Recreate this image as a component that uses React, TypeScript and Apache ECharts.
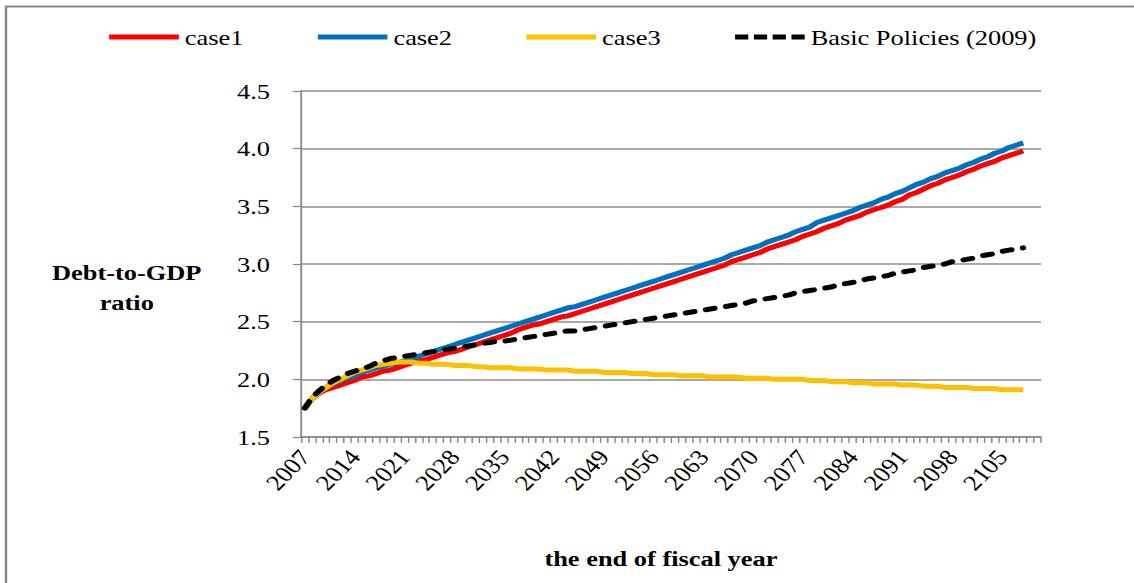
import React, { useEffect, useRef } from 'react';
import * as echarts from 'echarts';

// Categories: fiscal years 2007..2110 (Excel-style category axis)
const FIRST_YEAR = 2007;
const LAST_YEAR = 2110;
const years: string[] = [];
for (let y = FIRST_YEAR; y <= LAST_YEAR; y++) years.push(String(y));

// Values for 2007..2108
const case1 = [
  1.75, 1.83, 1.88, 1.91, 1.93, 1.95, 1.97, 1.99, 2.02, 2.03,
  2.05, 2.07, 2.08, 2.10, 2.12, 2.14, 2.16, 2.17, 2.19, 2.21,
  2.23, 2.24, 2.26, 2.28, 2.30, 2.32, 2.34, 2.36, 2.38, 2.40,
  2.43, 2.45, 2.47, 2.48, 2.50, 2.52, 2.54, 2.55, 2.57, 2.59,
  2.61, 2.63, 2.65, 2.67, 2.69, 2.71, 2.73, 2.75, 2.77, 2.79,
  2.81, 2.83, 2.85, 2.87, 2.89, 2.91, 2.93, 2.95, 2.97, 2.99,
  3.02, 3.04, 3.06, 3.08, 3.10, 3.13, 3.15, 3.17, 3.19, 3.21,
  3.24, 3.26, 3.28, 3.31, 3.33, 3.35, 3.38, 3.40, 3.42, 3.45,
  3.47, 3.49, 3.51, 3.54, 3.56, 3.60, 3.62, 3.65, 3.68, 3.70,
  3.73, 3.75, 3.77, 3.80, 3.82, 3.85, 3.87, 3.89, 3.92, 3.94,
  3.96, 3.98,
];

const case2 = [
  1.75, 1.83, 1.89, 1.93, 1.96, 1.99, 2.01, 2.03, 2.06, 2.08,
  2.10, 2.11, 2.13, 2.14, 2.16, 2.18, 2.20, 2.22, 2.24, 2.26,
  2.28, 2.30, 2.32, 2.34, 2.36, 2.38, 2.40, 2.42, 2.44, 2.46,
  2.48, 2.50, 2.52, 2.54, 2.56, 2.58, 2.60, 2.62, 2.63, 2.65,
  2.67, 2.69, 2.71, 2.73, 2.75, 2.77, 2.79, 2.81, 2.83, 2.85,
  2.87, 2.89, 2.91, 2.93, 2.95, 2.97, 2.99, 3.01, 3.03, 3.05,
  3.08, 3.10, 3.12, 3.14, 3.16, 3.19, 3.21, 3.23, 3.25, 3.28,
  3.30, 3.32, 3.36, 3.38, 3.40, 3.42, 3.44, 3.46, 3.49, 3.51,
  3.53, 3.56, 3.58, 3.61, 3.63, 3.66, 3.69, 3.71, 3.74, 3.76,
  3.79, 3.81, 3.83, 3.86, 3.88, 3.91, 3.93, 3.96, 3.98, 4.01,
  4.03, 4.05,
];

const case3 = [
  1.75, 1.83, 1.89, 1.93, 1.97, 2.00, 2.03, 2.06, 2.08, 2.10,
  2.12, 2.13, 2.14, 2.15, 2.15, 2.15, 2.14, 2.14, 2.13, 2.13,
  2.13, 2.12, 2.12, 2.12, 2.11, 2.11, 2.10, 2.10, 2.10, 2.10,
  2.09, 2.09, 2.09, 2.09, 2.08, 2.08, 2.08, 2.08, 2.07, 2.07,
  2.07, 2.07, 2.06, 2.06, 2.06, 2.06, 2.05, 2.05, 2.05, 2.04,
  2.04, 2.04, 2.04, 2.03, 2.03, 2.03, 2.03, 2.02, 2.02, 2.02,
  2.02, 2.02, 2.01, 2.01, 2.01, 2.01, 2.00, 2.00, 2.00, 2.00,
  2.00, 1.99, 1.99, 1.99, 1.98, 1.98, 1.98, 1.97, 1.97, 1.97,
  1.96, 1.96, 1.96, 1.96, 1.95, 1.95, 1.95, 1.94, 1.94, 1.94,
  1.93, 1.93, 1.93, 1.93, 1.92, 1.92, 1.92, 1.92, 1.91, 1.91,
  1.91, 1.91,
];

const basicPolicies = [
  1.75, 1.84, 1.90, 1.95, 1.99, 2.02, 2.05, 2.07, 2.09, 2.11,
  2.14, 2.16, 2.18, 2.19, 2.20, 2.21, 2.22, 2.23, 2.24, 2.25,
  2.26, 2.27, 2.28, 2.29, 2.30, 2.31, 2.32, 2.33, 2.33, 2.34,
  2.35, 2.36, 2.37, 2.38, 2.39, 2.40, 2.41, 2.42, 2.42, 2.43,
  2.44, 2.45, 2.46, 2.47, 2.48, 2.49, 2.50, 2.51, 2.52, 2.53,
  2.54, 2.55, 2.56, 2.57, 2.58, 2.59, 2.60, 2.61, 2.62, 2.63,
  2.64, 2.65, 2.66, 2.68, 2.69, 2.70, 2.71, 2.72, 2.73, 2.75,
  2.76, 2.77, 2.78, 2.79, 2.80, 2.82, 2.83, 2.84, 2.85, 2.87,
  2.88, 2.89, 2.90, 2.92, 2.93, 2.94, 2.95, 2.97, 2.98, 2.99,
  3.00, 3.02, 3.03, 3.04, 3.05, 3.07, 3.08, 3.09, 3.11, 3.12,
  3.13, 3.14,
];

const seriesNames = ['case1', 'case2', 'case3', 'Basic Policies (2009)'];
const seriesColors = ['#FF0000', '#0070C0', '#FFC000', '#000000'];
const Y_MIN = 1.5;
const Y_MAX = 4.5;
const Y_STEP = 0.5;

// The reference picture is horizontally stretched; reproduce by scaling X.
const SX = 1.2;
const W = 1134 / SX;
const H = 583;
const FONT = "'Liberation Serif', 'Times New Roman', Times, serif";
const GRAY = '#868686';

const SOLID_ICON = 'path://M0 0H58V5H0Z';
const DASH_ICON = 'path://M0 0H11V5H0Z M15.7 0H26.7V5H15.7Z M31.3 0H42.3V5H31.3Z M47 0H58V5H47Z';

export default function App() {
  const ref = useRef<HTMLDivElement>(null);
  useEffect(() => {
    const chart = echarts.init(ref.current!, null, { renderer: 'svg', width: W, height: H });
    const datas = [case1, case2, case3, basicPolicies];
    chart.setOption({
      animation: false,
      backgroundColor: '#ffffff',
      textStyle: { fontFamily: FONT },
      grid: { left: 251, right: W - 867.5, top: 91, bottom: 146 },
      legend: {
        left: 86,
        top: 21,
        itemWidth: 58,
        itemHeight: 5,
        itemGap: 62,
        data: seriesNames.map((n, i) => ({ name: n, icon: i === 3 ? DASH_ICON : SOLID_ICON })),
        textStyle: { fontFamily: FONT, fontSize: 22, color: '#000' },
      },
      xAxis: {
        type: 'category',
        data: years,
        boundaryGap: true,
        axisLine: { lineStyle: { color: GRAY, width: 1.5 } },
        axisTick: { show: true, interval: 0, length: 6, lineStyle: { color: GRAY, width: 1.2 } },
        axisLabel: {
          interval: 6,
          rotate: 50,
          fontSize: 22,
          color: '#000',
          fontFamily: FONT,
          margin: 16,
        },
        name: 'the end of fiscal year',
        nameLocation: 'middle',
        nameGap: 110,
        nameTextStyle: {
          fontFamily: FONT,
          fontWeight: 'bold',
          fontSize: 22,
          color: '#000',
          padding: [0, 17, 0, 0],
        },
      },
      yAxis: {
        type: 'value',
        min: Y_MIN,
        max: Y_MAX,
        interval: Y_STEP,
        axisLine: { show: true, lineStyle: { color: GRAY, width: 1.5 } },
        axisTick: { show: true, length: 7, lineStyle: { color: GRAY, width: 1.2 } },
        axisLabel: {
          formatter: (v: number) => v.toFixed(1),
          fontSize: 22,
          color: '#000',
          fontFamily: FONT,
          margin: 26,
        },
        splitLine: { show: true, lineStyle: { color: '#8c8c8c', width: 1.5 } },
      },
      series: seriesNames.map((name, i) => ({
        name,
        type: 'line',
        data: datas[i],
        symbol: 'none',
        smooth: false,
        color: seriesColors[i],
        lineStyle: {
          color: seriesColors[i],
          width: 5,
          type: i === 3 ? [7.5, 9.5] : 'solid',
          cap: i === 3 ? 'round' : 'butt',
          join: 'round',
        },
        z: 2 + i,
      })),
      graphic: [
        {
          type: 'rect',
          silent: true,
          z: -10,
          shape: { x: 5, y: 6.5, width: 3000, height: 3000 },
          style: { fill: 'none', stroke: '#888888', lineWidth: 2 },
        },
        {
          type: 'text',
          silent: true,
          x: 105.6,
          y: 257.5,
          style: {
            text: 'Debt-to-GDP\nratio',
            fontFamily: FONT,
            fontWeight: 'bold',
            fontSize: 22,
            lineHeight: 30,
            fill: '#000',
            textAlign: 'center',
            textVerticalAlign: 'top',
          },
        },
      ],
    });
    return () => chart.dispose();
  }, []);
  return (
    <div
      ref={ref}
      style={{
        position: 'absolute',
        left: 0,
        top: 0,
        width: W,
        height: H,
        transform: `scaleX(${SX})`,
        transformOrigin: '0 0',
        background: '#fff',
      }}
    />
  );
}
